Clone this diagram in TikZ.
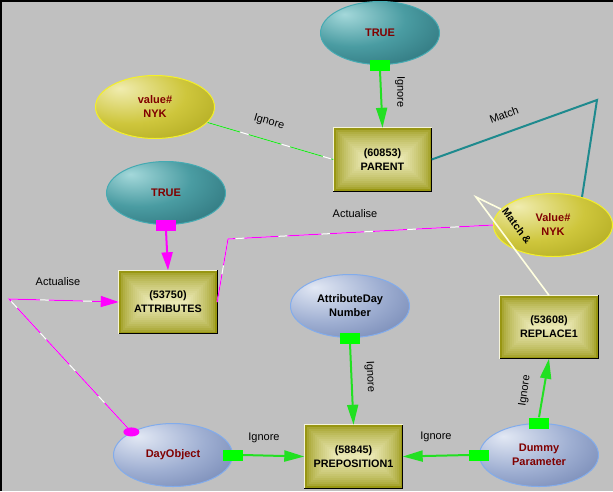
\documentclass[tikz,border=0pt]{standalone}
\usepackage{fontspec}
\setmainfont{Liberation Sans}
\usetikzlibrary{shapes.geometric,arrows.meta}
\definecolor{bg}{HTML}{C0C0C0}
\definecolor{tealhi}{HTML}{A4D8DA}
\definecolor{tealmid}{HTML}{4A9CA2}
\definecolor{tealdk}{HTML}{22616A}
\definecolor{tealbd}{HTML}{45AAB2}
\definecolor{olhi}{HTML}{F0ECB0}
\definecolor{olmid}{HTML}{CEC63C}
\definecolor{oldk}{HTML}{9E9810}
\definecolor{olbd}{HTML}{F4F028}
\definecolor{bluhi}{HTML}{E2E8F4}
\definecolor{blumid}{HTML}{9FAFD2}
\definecolor{bludk}{HTML}{5C70A2}
\definecolor{blubd}{HTML}{82ACEC}
\definecolor{rectdark}{HTML}{989612}
\definecolor{rectlight}{HTML}{EAE8B4}
\definecolor{lgreen}{HTML}{22E022}
\definecolor{sqgreen}{HTML}{00FF00}
\definecolor{mag}{HTML}{FF00FF}
\definecolor{tealline}{HTML}{1E8A8E}
\definecolor{darkred}{HTML}{800000}
\definecolor{cream}{HTML}{FFFFE0}
\pgfdeclareradialshading{tealsh}{\pgfpoint{-15bp}{15bp}}{color(0bp)=(tealhi); color(22bp)=(tealmid); color(52bp)=(tealdk); color(90bp)=(tealdk)}
\pgfdeclareradialshading{olsh}{\pgfpoint{-15bp}{15bp}}{color(0bp)=(olhi); color(24bp)=(olmid); color(54bp)=(oldk); color(90bp)=(oldk)}
\pgfdeclareradialshading{blush}{\pgfpoint{-15bp}{15bp}}{color(0bp)=(bluhi); color(24bp)=(blumid); color(54bp)=(bludk); color(90bp)=(bludk)}
\tikzset{
  ell/.style={ellipse, line width=1pt, inner sep=0pt, align=center,
    font=\bfseries\fontsize{11}{14}\selectfont, minimum width=119pt, minimum height=63pt, shade},
  tealell/.style={ell, draw=tealbd, shading=tealsh, text=darkred},
  olell/.style={ell, draw=olbd, shading=olsh, text=darkred},
  bluell/.style={ell, draw=blubd, shading=blush, text=darkred},
  box/.style={rectangle, inner sep=0pt, align=center, minimum width=98pt, minimum height=63pt,
    font=\bfseries\fontsize{10.8}{14}\selectfont,
    path picture={
      \foreach \i in {0,...,15}{
        \pgfmathsetmacro{\pc}{100*(\i/15)^0.6}
        \fill[rectlight!\pc!rectdark]
          ([shift={(\i*2pt,\i*2pt)}]path picture bounding box.south west) rectangle
          ([shift={(-\i*2pt,-\i*2pt)}]path picture bounding box.north east);
      }
    }},
  sq/.style={rectangle, fill=sqgreen, inner sep=0pt, minimum width=20pt, minimum height=11pt},
  magsq/.style={sq, fill=mag},
  magdot/.style={ellipse, fill=mag, inner sep=0pt, minimum width=16pt, minimum height=9pt},
  gline/.style={draw=lgreen, line width=2pt, -{Triangle[length=20pt,width=11pt]}},
  mline/.style={draw=mag, line width=2pt, -{Triangle[length=18pt,width=11pt]}},
  thinm/.style={draw=mag, line width=1pt, dash pattern=on 34pt off 9pt},
  whiteunder/.style={draw=white, line width=1pt},
  lab/.style={font=\fontsize{11}{13}\selectfont, inner sep=0pt}
}
\begin{document}
\begin{tikzpicture}[x=1pt,y=-1pt]
\useasboundingbox (0,0) rectangle (613,491);
\fill[bg] (0,0) rectangle (613,491);
\draw[black, line width=2.5pt] (1.2,491) -- (1.2,0.6) -- (613,0.6);

% ellipses
\node[tealell] (t1) at (380,33) {TRUE};
\node[olell] (v1) at (155,107) {value\#\\NYK};
\node[tealell] (t2) at (166,193) {TRUE};
\node[olell] (v2) at (553,225) {Value\#\\NYK};
\node[bluell, text=black] (ad) at (350,306) {AttributeDay\\Number};
\node[bluell] (dob) at (173,455) {DayObject};
\node[bluell] (dum) at (539,455) {Dummy\\Parameter};

% boxes
\node[box] (par) at (382.5,159.5) {(60853)\\PARENT};
\node[box] (att) at (168,302) {(53750)\\ATTRIBUTES};
\node[box] (rep) at (549,327) {(53608)\\REPLACE1};
\node[box] (pre) at (353.5,456.5) {(58845)\\PREPOSITION1};
\foreach \r in {par,att,rep,pre}{
  \draw[black, line width=1pt] (\r.north east) -- (\r.south east) -- (\r.south west);
  \draw[white!50!rectlight, line width=0.8pt] (\r.south west) -- (\r.north west) -- (\r.north east);
}

% port markers
\node[sq] (s1) at (t1.south) {};
\node[magsq] (s2) at (t2.south) {};
\node[sq] (s3) at (ad.south) {};
\node[sq] (s4) at (dob.east) {};
\node[sq] (s5) at (dum.west) {};
\node[sq] (s6) at (dum.north) {};
\node[magdot] (md) at (dob.151) {};

% helper bends
\coordinate (mk) at (597,100);
\coordinate (ak) at (228,239);
\coordinate (al) at (9,299);
\coordinate (mw) at (476,197);

% connectors
\draw[gline] (s1.south) -- (par.north);
\draw[gline] (s3.south) -- (pre.north);
\draw[gline] (s4.east) -- (pre.west);
\draw[gline] (s5.west) -- (pre.east);
\draw[gline] (s6.north) -- (rep.south);
\draw[mline] (s2.south) -- (att.north);

\draw[whiteunder] (v1) -- (par.west);
\draw[draw=lgreen, line width=1pt, dash pattern=on 34pt off 9pt] (v1) -- (par.west);

\draw[tealline, line width=2pt] (par.east) -- (mk) -- (v2.44);

\draw[whiteunder] (v2.west) -- (ak) -- (att.east);
\draw[thinm] (v2.west) -- (ak) -- (att.east);

\draw[whiteunder] (md) -- (al) -- (att.west);
\draw[thinm, -{Triangle[length=18pt,width=11pt]}] (md) -- (al) -- (att.west);

\draw[cream, line width=1.6pt] (rep.north) -- (mw) -- (v2.163);

% labels
\node[lab, rotate=-90] (l1) at (400,92) {Ignore};
\node[lab, rotate=-16] (l2) at (269,122) {Ignore};
\node[lab, rotate=20] (l3) at (504,115) {Match};
\node[lab] (l4) at (355,214) {Actualise};
\node[lab, rotate=-53, font=\bfseries\fontsize{10.5}{12}\selectfont] (l5) at (517,226) {Match \&};
\node[lab] (l6) at (58,282) {Actualise};
\node[lab, rotate=-87] (l7) at (370,377) {Ignore};
\node[lab, rotate=82] (l8) at (525,391) {Ignore};
\node[lab] (l9) at (264,438) {Ignore};
\node[lab] (l10) at (436,437) {Ignore};
\end{tikzpicture}
\end{document}
